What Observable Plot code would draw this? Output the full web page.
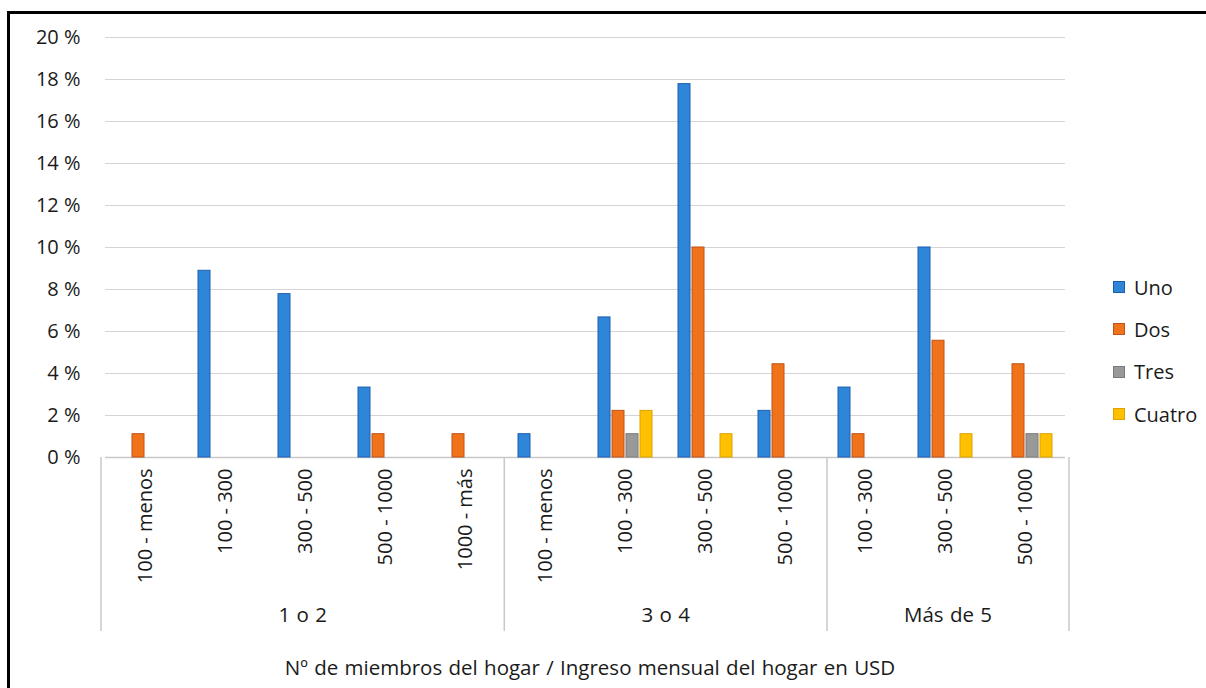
<!DOCTYPE html>
<html>
<head>
<meta charset="utf-8">
<script src="https://cdn.jsdelivr.net/npm/d3@7"></script>
<script src="https://cdn.jsdelivr.net/npm/@observablehq/plot@0.6"></script>
<style>
  html, body { margin: 0; padding: 0; background: #fff; }
  #wrap { position: relative; width: 1206px; height: 688px; overflow: hidden; font-family: "Open Sans", sans-serif; color: #1a1a1a; }
  #frame { position: absolute; left: 7px; top: 11px; width: 1210px; height: 690px; border-left: 3px solid #000; border-top: 3px solid #000; box-sizing: border-box; pointer-events: none; }
  #legend { position: absolute; left: 1113px; top: 266px; font-size: 20px; }
  #legend .item { display: flex; align-items: center; height: 42.3px; }
  #legend .sw { width: 12px; height: 12px; margin-right: 9px; box-sizing: border-box; border: 1px solid; }
  #chart svg { position: absolute; left: 0; top: 0; }
</style>
</head>
<body>
<div id="wrap">
  <div id="chart"></div>
  <div id="legend"></div>
  <div id="frame"></div>
</div>
<script>
// ---- Data ----
const groupLabels = ["1 o 2","1 o 2","1 o 2","1 o 2","1 o 2","3 o 4","3 o 4","3 o 4","3 o 4","Más de 5","Más de 5","Más de 5"];
const incomeLabels = ["100 - menos","100 - 300","300 - 500","500 - 1000","1000 - más","100 - menos","100 - 300","300 - 500","500 - 1000","100 - 300","300 - 500","500 - 1000"];
const series = ["Uno","Dos","Tres","Cuatro"];
const uno    = [0, 8.89, 7.78, 3.33, 0, 1.11, 6.67, 17.78, 2.22, 3.33, 10.0, 0];
const dos    = [1.11, 0, 0, 1.11, 1.11, 0, 2.22, 10.0, 4.44, 1.11, 5.56, 4.44];
const tres   = [0, 0, 0, 0, 0, 0, 1.11, 0, 0, 0, 0, 1.11];
const cuatro = [0, 0, 0, 0, 0, 0, 2.22, 1.11, 0, 0, 1.11, 1.11];
const yTicks = [0, 2, 4, 6, 8, 10, 12, 14, 16, 18, 20];
const xTitle = "Nº de miembros del hogar / Ingreso mensual del hogar en USD";

const fills   = ["#2f86d9", "#f0721b", "#999999", "#ffc000"];
const strokes = ["#1a5fae", "#c0531a", "#7a7a7a", "#dba400"];

const seriesValues = [uno, dos, tres, cuatro];
const keys = incomeLabels.map((_, i) => i);
const rows = [];
keys.forEach(i => series.forEach((s, j) => {
  rows.push({key: i, series: s, value: seriesValues[j][i]});
}));
const bars = rows.filter(d => d.value > 0);

const plot = Plot.plot({
  width: 1206,
  height: 688,
  marginLeft: 101,
  marginRight: 137,
  marginTop: 37,
  marginBottom: 231,
  style: {fontFamily: "'Open Sans', sans-serif", fontSize: "20px", color: "#1a1a1a", background: "transparent"},
  facet: {data: bars, x: "key"},
  fx: {domain: keys, paddingInner: 0, paddingOuter: 0, label: null, tickRotate: -90, tickSize: 0, tickPadding: 11, tickFormat: k => incomeLabels[k]},
  x: {domain: series, paddingInner: 0.17, paddingOuter: 0.87, axis: null},
  y: {domain: [0, 20], ticks: yTicks, tickFormat: d => d + " %", tickSize: 0, tickPadding: 25, label: null},
  color: {domain: series, range: fills},
  marks: [
    Plot.ruleY(yTicks.filter(d => d > 0), {stroke: "#d4d4d4", strokeWidth: 1.2}),
    Plot.ruleY([0], {stroke: "#c8c8c8", strokeWidth: 1.5}),
    Plot.barY(bars, {x: "series", y: "value", fill: "series", stroke: d => strokes[series.indexOf(d.series)], strokeWidth: 1})
  ]
});
document.getElementById("chart").appendChild(plot);

// Group separators, group labels and axis title, positioned from the plot's own scales
const fxs = plot.scale("fx");
const band = d3.scaleBand().domain(fxs.domain).range(fxs.range)
  .paddingInner(fxs.paddingInner || 0).paddingOuter(fxs.paddingOuter || 0).align(fxs.align ?? 0.5);
const ys = plot.scale("y");
const y0 = d3.max(ys.range);
const svg = d3.select(plot.tagName.toLowerCase() === "svg" ? plot : plot.querySelector("svg"));
const groups = Array.from(new Set(groupLabels));
const g = svg.append("g");
const edges = [];
groups.forEach(gr => {
  const idx = keys.filter(k => groupLabels[k] === gr);
  const x0 = band(idx[0]);
  const x1 = band(idx[idx.length - 1]) + band.bandwidth();
  edges.push(x0, x1);
  g.append("text").attr("x", (x0 + x1) / 2).attr("y", y0 + 165)
    .attr("text-anchor", "middle").attr("font-size", 20.5).attr("word-spacing", 1).attr("fill", "#1a1a1a").text(gr);
});
Array.from(new Set(edges.map(e => Math.round(e * 10) / 10))).forEach(x => {
  g.append("line").attr("x1", x).attr("x2", x).attr("y1", y0).attr("y2", y0 + 174)
    .attr("stroke", "#c8c8c8").attr("stroke-width", 1.5);
});
const [r0, r1] = band.range();
g.append("text").attr("x", (r0 + r1) / 2 + 5).attr("y", y0 + 218)
  .attr("text-anchor", "middle").attr("font-size", 20.5).attr("word-spacing", 1).attr("fill", "#1a1a1a").text(xTitle);

// Legend
const legend = d3.select("#legend");
series.forEach((s, j) => {
  const it = legend.append("div").attr("class", "item");
  it.append("div").attr("class", "sw").style("background", fills[j]).style("border-color", strokes[j]);
  it.append("span").text(s);
});
</script>
</body>
</html>
